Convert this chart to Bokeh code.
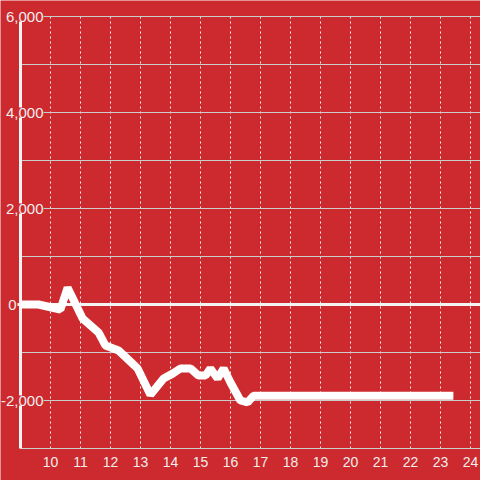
import re
from bokeh.plotting import figure
from bokeh.models import LabelSet, ColumnDataSource, Range1d
from bokeh.core.properties import value
from bokeh.embed import file_html
from bokeh.resources import INLINE

hours = [9.0, 9.6, 10.33, 10.57, 11.07, 11.6, 11.83, 12.27, 12.73, 12.9, 13.33,
         13.77, 14.07, 14.33, 14.67, 14.93, 15.17, 15.33, 15.57, 15.77, 16.0,
         16.33, 16.57, 16.77, 23.43]
values = [0, 0, -104, 350, -292, -583, -854, -958, -1229, -1330, -1880,
          -1542, -1440, -1333, -1333, -1479, -1479, -1333, -1542, -1333, -1625,
          -2000, -2040, -1900, -1900]

x_ticks = list(range(10, 25))
x_tick_labels = [str(t) for t in x_ticks]
y_grid_ticks = [-3000, -2000, -1000, 1000, 2000, 3000, 4000, 5000, 6000]
y_label_values = [-2000, 2000, 4000, 6000]
y_label_texts = ["-2,000", "2,000", "4,000", "6,000"]
zero_label = "0"

X_MIN, X_MAX = 9, 24.3333
Y_MIN, Y_MAX = -3000, 6000

BG = "#cc2a2e"
TXT = "#f2eded"
FONT = value("Liberation Sans")

# frame covers the whole canvas: 30 px per hour, 48 px per 1000
p = figure(width=480, height=480, output_backend="svg", toolbar_location=None,
           x_range=Range1d(X_MIN - 20 / 30, X_MAX),
           y_range=Range1d(Y_MIN - 32000 / 48, Y_MAX + 16000 / 48),
           x_axis_location=None, y_axis_location=None,
           min_border_left=0, min_border_right=0, min_border_top=0, min_border_bottom=0)
p.background_fill_color = BG
p.border_fill_color = BG
p.outline_line_color = None
p.xgrid.visible = False
p.ygrid.visible = False

# vertical dashed grid
p.segment(x0=x_ticks, x1=x_ticks, y0=[Y_MIN] * len(x_ticks), y1=[Y_MAX] * len(x_ticks),
          line_color="#f4f4f4", line_width=1, line_dash="2 3")
# horizontal grid
p.segment(x0=[X_MIN] * len(y_grid_ticks), x1=[X_MAX + 1] * len(y_grid_ticks),
          y0=y_grid_ticks, y1=y_grid_ticks, line_color="#cccccc", line_width=1)
# y axis line
p.segment(x0=[X_MIN], x1=[X_MIN], y0=[Y_MIN], y1=[Y_MAX], line_color="#f4f4f4", line_width=3)
# zero line
p.segment(x0=[X_MIN - 0.1], x1=[X_MAX + 1], y0=[0], y1=[0], line_color="#f4f4f4", line_width=3)

# data
p.line(hours, values, line_color="white", line_width=8)

ysrc = ColumnDataSource(dict(x=[X_MIN] * len(y_label_values), y=y_label_values, t=y_label_texts))
p.add_layout(LabelSet(x="x", y="y", text="t", source=ysrc, x_offset=23,
                      text_align="right", text_baseline="middle",
                      text_color=TXT, text_font=FONT, text_font_size="15px",
                      background_fill_color=BG))

zsrc = ColumnDataSource(dict(x=[X_MIN], y=[0], t=[zero_label]))
p.add_layout(LabelSet(x="x", y="y", text="t", source=zsrc, x_offset=-4,
                      text_align="right", text_baseline="middle",
                      text_color=TXT, text_font=FONT, text_font_size="15px",
                      background_fill_color=BG))

xsrc = ColumnDataSource(dict(x=x_ticks, y=[Y_MIN] * len(x_ticks), t=x_tick_labels))
p.add_layout(LabelSet(x="x", y="y", text="t", source=xsrc, y_offset=-13,
                      text_align="center", text_baseline="middle",
                      text_color=TXT, text_font=FONT, text_font_size="14px"))

html = file_html(p, INLINE)
html = re.sub(r"<body[^>]*>", '<body style="margin:0;background:%s;overflow:hidden">' % BG, html, count=1)
open("out.html", "w").write(html)
